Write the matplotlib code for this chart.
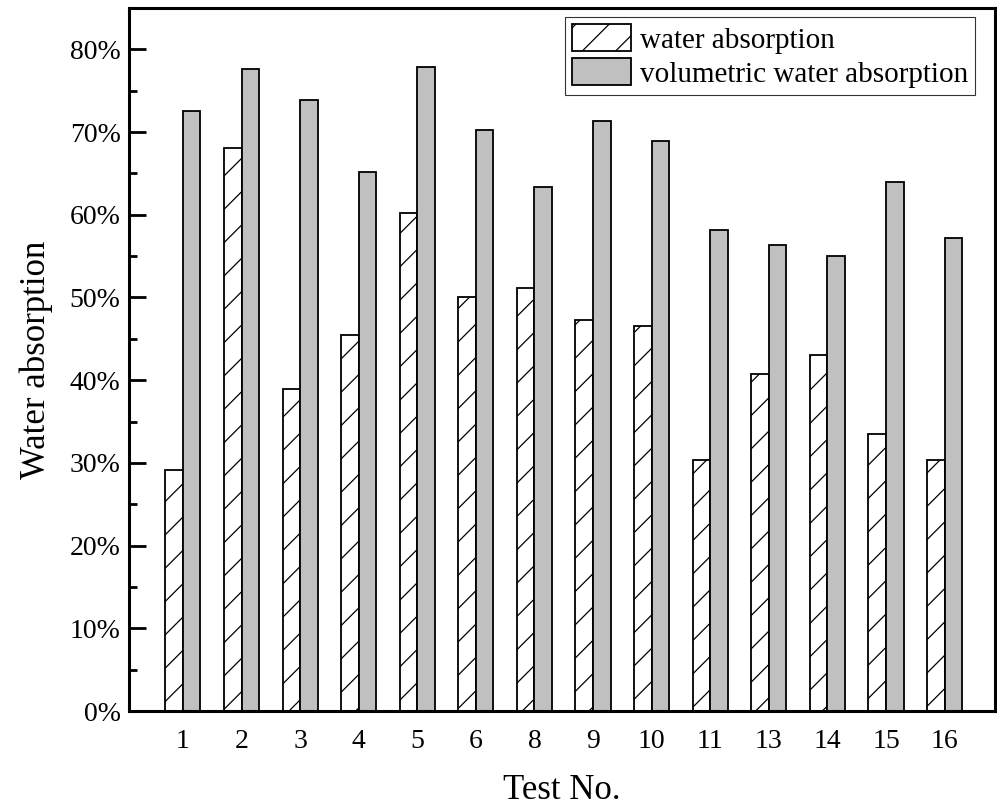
import numpy as np
import matplotlib
matplotlib.use('Agg')
import matplotlib.pyplot as plt
from matplotlib.ticker import MultipleLocator, FormatStrFormatter

# values (%)
test_no = ['1', '2', '3', '4', '5', '6', '8', '9', '10', '11', '13', '14', '15', '16']
water_abs = [29.2, 68.1, 38.9, 45.5, 60.2, 50.0, 51.2, 47.3, 46.6, 30.3, 40.8, 43.1, 33.5, 30.3]
vol_water_abs = [72.6, 77.6, 73.9, 65.2, 77.9, 70.3, 63.4, 71.3, 68.9, 58.1, 56.3, 55.0, 64.0, 57.2]

plt.rcParams['font.family'] = ['Liberation Serif', 'DejaVu Serif']
plt.rcParams['hatch.linewidth'] = 0.9

fig = plt.figure(figsize=(9.97, 8.09), dpi=100)
ax = fig.add_axes([0.1294, 0.1211, 0.8686, 0.869])

x = np.arange(len(test_no))
w = 0.3
ax.bar(x - w / 2, water_abs, w, color='white', edgecolor='black', linewidth=1.3,
       hatch='/', label='water absorption')
ax.bar(x + w / 2, vol_water_abs, w, color='#c0c0c0', edgecolor='black', linewidth=1.3,
       label='volumetric water absorption')

ax.set_xlim(-0.92, 13.86)
ax.set_ylim(0, 85)
ax.set_xticks(x)
ax.set_xticklabels(test_no)
ax.yaxis.set_major_locator(MultipleLocator(10))
ax.yaxis.set_minor_locator(MultipleLocator(5))
ax.yaxis.set_major_formatter(FormatStrFormatter('%d%%'))

ax.tick_params(axis='y', which='major', direction='in', length=12, width=2, labelsize=20, pad=6)
ax.tick_params(axis='y', which='minor', direction='in', length=6, width=2)
ax.tick_params(axis='x', length=0, labelsize=20, pad=13)
for s in ax.spines.values():
    s.set_linewidth(2.2)

ax.set_xlabel('Test No.', fontsize=25, labelpad=14)
ax.set_ylabel('Water absorption', fontsize=25, labelpad=12)

leg = ax.legend(loc='upper right', bbox_to_anchor=(0.977, 0.987), fontsize=21,
                frameon=True, fancybox=False, edgecolor='black',
                handlelength=2.0, handleheight=1.05, handletextpad=0.3,
                borderpad=0.25, labelspacing=0.15, borderaxespad=0)
leg.get_frame().set_linewidth(0.8)

fig.savefig('out.png', dpi=100)
